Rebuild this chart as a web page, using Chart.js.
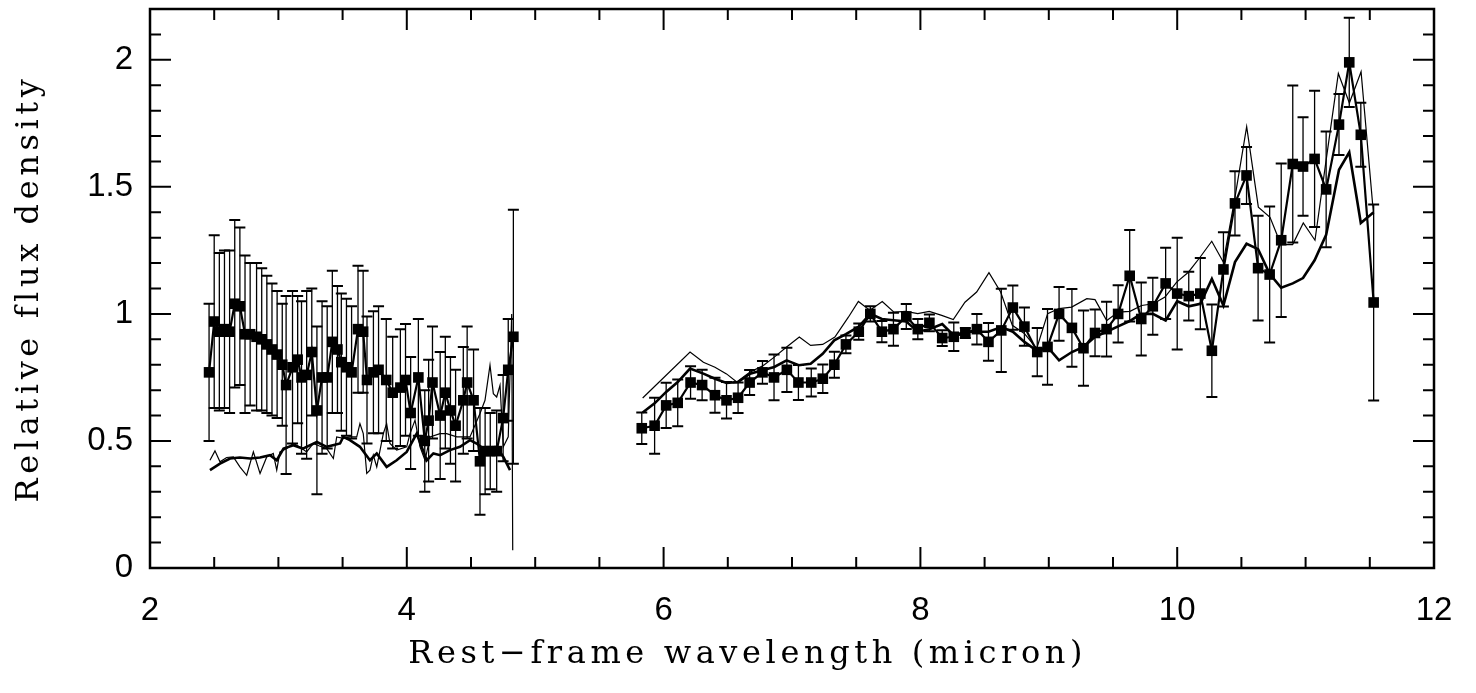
<!DOCTYPE html>
<html>
<head>
<meta charset="utf-8">
<script src="https://cdn.jsdelivr.net/npm/chart.js@4.4.1/dist/chart.umd.min.js"></script>
<style>
html,body{margin:0;padding:0;background:#fff;}
#wrap{width:1476px;height:693px;position:relative;}
</style>
</head>
<body>
<div id="wrap"><canvas id="c" width="1476" height="693"></canvas></div>
<script>
// ---------- data: short-wavelength segment ----------
const wl1 = [2.46,2.50,2.54,2.58,2.62,2.66,2.70,2.74,2.78,2.83,2.87,2.91,2.95,2.99,3.03,3.06,3.11,3.15,3.18,3.22,3.26,3.30,3.34,3.38,3.42,3.46,3.49,3.53,3.57,3.62,3.66,3.69,3.74,3.78,3.84,3.89,3.95,3.99,4.03,4.09,4.14,4.17,4.20,4.26,4.30,4.34,4.38,4.44,4.47,4.52,4.57,4.61,4.65,4.70,4.75,4.79,4.83];
const flux1 = [0.77,0.97,0.93,0.94,0.93,1.04,1.03,0.92,0.92,0.91,0.90,0.88,0.86,0.84,0.80,0.72,0.79,0.82,0.75,0.76,0.85,0.62,0.75,0.75,0.89,0.86,0.81,0.79,0.77,0.94,0.93,0.74,0.77,0.78,0.74,0.69,0.71,0.74,0.61,0.75,0.50,0.58,0.73,0.60,0.69,0.62,0.56,0.66,0.73,0.66,0.42,0.46,0.46,0.46,0.59,0.78,0.91];
const err1 = [0.27,0.34,0.31,0.31,0.32,0.33,0.31,0.31,0.28,0.29,0.28,0.27,0.26,0.25,0.24,0.35,0.30,0.25,0.30,0.33,0.25,0.33,0.30,0.28,0.28,0.25,0.27,0.27,0.26,0.25,0.24,0.25,0.24,0.25,0.24,0.22,0.23,0.22,0.22,0.23,0.20,0.24,0.22,0.25,0.22,0.21,0.22,0.21,0.22,0.20,0.21,0.17,0.15,0.16,0.17,0.20,0.50];

// ---------- data: long-wavelength segment ----------
const wl2 = [5.83,5.93,6.02,6.11,6.21,6.30,6.40,6.49,6.58,6.67,6.77,6.86,6.96,7.05,7.15,7.24,7.33,7.42,7.52,7.61,7.70,7.79,7.89,7.98,8.07,8.17,8.26,8.35,8.44,8.53,8.63,8.72,8.81,8.91,8.99,9.08,9.18,9.27,9.36,9.45,9.54,9.63,9.72,9.81,9.91,10.00,10.09,10.18,10.27,10.36,10.45,10.54,10.63,10.72,10.81,10.90,10.98,11.07,11.16,11.26,11.34,11.43,11.53];
const flux2 = [0.55,0.56,0.64,0.65,0.73,0.72,0.68,0.66,0.67,0.73,0.77,0.75,0.78,0.73,0.73,0.745,0.80,0.88,0.93,1.00,0.93,0.94,0.99,0.94,0.965,0.905,0.91,0.925,0.94,0.89,0.935,1.025,0.95,0.85,0.87,1.00,0.945,0.865,0.925,0.94,1.00,1.15,0.98,1.03,1.12,1.08,1.07,1.08,0.855,1.175,1.435,1.545,1.18,1.155,1.29,1.59,1.58,1.61,1.49,1.745,1.99,1.705,1.045];
const err2 = [0.062,0.11,0.089,0.092,0.064,0.06,0.069,0.072,0.06,0.049,0.045,0.09,0.087,0.069,0.055,0.056,0.051,0.035,0.032,0.03,0.042,0.065,0.049,0.04,0.033,0.031,0.056,0.02,0.06,0.074,0.164,0.087,0.075,0.095,0.149,0.106,0.153,0.148,0.092,0.108,0.113,0.18,0.144,0.112,0.14,0.22,0.096,0.14,0.182,0.146,0.126,0.112,0.206,0.268,0.302,0.309,0.194,0.268,0.228,0.12,0.176,0.126,0.386];

// ---------- model curves ----------
const thinX1 = [2.467,2.506,2.545,2.597,2.649,2.70,2.753,2.805,2.857,2.909,2.96,2.987,3.012,3.065,3.116,3.17,3.22,3.272,3.32,3.376,3.428,3.454,3.506,3.557,3.61,3.635,3.661,3.688,3.713,3.739,3.766,3.817,3.843,3.869,3.921,3.999,4.025,4.064,4.103,4.142,4.181,4.259,4.31,4.389,4.492,4.57,4.609,4.648,4.674,4.70,4.726,4.752,4.79,4.817,4.825];
const thinY1 = [0.424,0.461,0.418,0.435,0.437,0.398,0.365,0.457,0.372,0.437,0.451,0.385,0.457,0.470,0.490,0.475,0.457,0.490,0.480,0.470,0.431,0.516,0.510,0.516,0.516,0.568,0.529,0.372,0.385,0.444,0.398,0.529,0.568,0.490,0.464,0.477,0.529,0.582,0.477,0.424,0.516,0.529,0.529,0.516,0.516,0.608,0.660,0.798,0.686,0.673,0.719,0.477,0.516,1.00,0.07];
const thickX1 = [2.467,2.545,2.623,2.70,2.78,2.857,2.935,2.987,3.04,3.116,3.19,3.30,3.376,3.48,3.505,3.557,3.635,3.713,3.766,3.843,3.921,3.999,4.077,4.155,4.207,4.26,4.336,4.414,4.492,4.544,4.596,4.70,4.752,4.804];
const thickY1 = [0.385,0.411,0.431,0.435,0.431,0.435,0.444,0.424,0.470,0.483,0.470,0.496,0.477,0.490,0.516,0.503,0.477,0.424,0.451,0.398,0.424,0.457,0.529,0.424,0.451,0.444,0.464,0.477,0.503,0.490,0.470,0.477,0.437,0.385];
const thinX2 = [5.837,6.206,6.31,6.40,6.49,6.57,6.673,6.777,6.862,6.958,7.057,7.145,7.239,7.334,7.439,7.517,7.607,7.703,7.794,7.888,7.979,8.069,8.166,8.256,8.347,8.438,8.534,8.625,8.716,8.809,8.906,8.991,9.08,9.178,9.296,9.36,9.451,9.541,9.632,9.723,9.814,9.905,9.996,10.087,10.178,10.269,10.359,10.45,10.541,10.632,10.723,10.808,10.899,10.982,11.073,11.164,11.255,11.341,11.432,11.527];
const thinY2 = [0.669,0.850,0.810,0.790,0.764,0.732,0.771,0.797,0.830,0.870,0.909,0.876,0.880,0.909,0.987,1.049,1.014,1.049,1.007,1.010,1.001,1.010,0.994,0.978,1.046,1.086,1.162,1.086,0.955,0.923,0.864,1.001,1.021,1.027,1.060,1.056,0.974,1.007,1.010,1.033,1.040,1.066,1.125,1.164,1.223,1.286,1.204,1.459,1.737,1.420,1.380,1.273,1.273,1.358,1.290,1.620,1.946,1.830,1.953,1.404];
const thickX2 = [5.837,5.93,6.02,6.11,6.206,6.31,6.40,6.49,6.58,6.673,6.77,6.862,6.958,7.052,7.145,7.239,7.329,7.42,7.52,7.61,7.70,7.79,7.89,7.98,8.07,8.17,8.26,8.35,8.44,8.53,8.63,8.72,8.81,8.91,8.99,9.08,9.18,9.27,9.36,9.45,9.54,9.63,9.72,9.81,9.91,10.00,10.09,10.18,10.27,10.36,10.45,10.54,10.63,10.72,10.81,10.90,10.98,11.07,11.16,11.26,11.34,11.43,11.53];
const thickY2 = [0.612,0.648,0.693,0.732,0.785,0.765,0.745,0.728,0.732,0.765,0.778,0.791,0.817,0.798,0.804,0.843,0.896,0.920,0.950,1.000,0.980,0.975,0.970,0.930,0.940,0.960,0.915,0.930,0.930,0.930,0.948,0.930,0.890,0.854,0.870,0.817,0.850,0.870,0.910,0.930,0.951,0.972,1.000,1.000,0.974,1.050,1.030,1.040,1.138,1.033,1.204,1.276,1.255,1.158,1.103,1.120,1.141,1.211,1.311,1.567,1.636,1.358,1.400];

// ---------- axes ----------
const xRange = [2, 12];
const yRange = [0, 2.2];
const xMajorStep = 2;
const yMajorStep = 0.5;
const xTickMarks = [2,2.5,3,3.5,4,4.5,5,5.5,6,6.5,7,7.5,8,8.5,9,9.5,10,10.5,11,11.5,12];
const xTickMajor = [2,4,6,8,10,12];
const yTickMarks = [0,0.1,0.2,0.3,0.4,0.5,0.6,0.7,0.8,0.9,1,1.1,1.2,1.3,1.4,1.5,1.6,1.7,1.8,1.9,2,2.1,2.2];
const yTickMajor = [0,0.5,1,1.5,2];
const xTitle = 'Rest\u2212frame wavelength (micron)      ';
const yTitle = 'Relative flux density';

function pts(xs, ys) { return xs.map((v, i) => ({x: v, y: ys[i]})); }
function joinGap(a, b, gx) { return a.concat([{x: gx, y: null}], b); }

const dataPts = joinGap(pts(wl1, flux1), pts(wl2, flux2), 5.3);
const thinPts = joinGap(pts(thinX1, thinY1), pts(thinX2, thinY2), 5.3);
const thickPts = joinGap(pts(thickX1, thickY1), pts(thickX2, thickY2), 5.3);

const errorBars = {
  id: 'errorBars',
  afterDatasetsDraw(chart) {
    const {ctx, chartArea: a, scales: {x, y}} = chart;
    ctx.save();
    ctx.beginPath();
    ctx.rect(a.left, a.top, a.right - a.left, a.bottom - a.top);
    ctx.clip();
    ctx.strokeStyle = '#000';
    const segs = [[wl1, flux1, err1], [wl2, flux2, err2]];
    for (const [ws, fs, es] of segs) {
      ws.forEach((w, i) => {
        const px = x.getPixelForValue(w);
        const pt = y.getPixelForValue(fs[i] + es[i]);
        const pb = y.getPixelForValue(fs[i] - es[i]);
        ctx.lineWidth = 1.3;
        ctx.beginPath(); ctx.moveTo(px, pt); ctx.lineTo(px, pb); ctx.stroke();
        ctx.lineWidth = 2;
        ctx.beginPath();
        ctx.moveTo(px - 5.5, pt); ctx.lineTo(px + 5.5, pt);
        ctx.moveTo(px - 5.5, pb); ctx.lineTo(px + 5.5, pb);
        ctx.stroke();
      });
    }
    ctx.restore();
  }
};

const frameTicks = {
  id: 'frameTicks',
  afterDraw(chart) {
    const {ctx, chartArea: a, scales: {x, y}} = chart;
    ctx.save();
    ctx.strokeStyle = '#000';
    ctx.lineWidth = 2;
    ctx.beginPath();
    yTickMarks.forEach(v => {
      const py = y.getPixelForValue(v);
      const len = yTickMajor.includes(v) ? 21 : 11;
      ctx.moveTo(a.left, py); ctx.lineTo(a.left + len, py);
      ctx.moveTo(a.right, py); ctx.lineTo(a.right - len, py);
    });
    xTickMarks.forEach(v => {
      const px = x.getPixelForValue(v);
      const len = xTickMajor.includes(v) ? 21 : 11;
      ctx.moveTo(px, a.bottom); ctx.lineTo(px, a.bottom - len);
      ctx.moveTo(px, a.top); ctx.lineTo(px, a.top + len);
    });
    ctx.stroke();
    ctx.lineWidth = 2.5;
    ctx.strokeRect(a.left, a.top, a.right - a.left, a.bottom - a.top);
    ctx.restore();
  }
};

const titleSpacing = {
  id: 'titleSpacing',
  beforeDraw(chart) { chart.ctx.letterSpacing = '4.6px'; },
  beforeDatasetsDraw(chart) { chart.ctx.letterSpacing = '0px'; }
};

const tickFont = {family: '"Liberation Sans", Arial, sans-serif', size: 33};
const titleFont = {family: '"DejaVu Serif", serif', size: 32};

new Chart(document.getElementById('c'), {
  type: 'line',
  data: {
    datasets: [
      {label: 'thin model', data: thinPts, borderColor: '#000', borderWidth: 1.2, pointRadius: 0, spanGaps: false, tension: 0},
      {label: 'thick model', data: thickPts, borderColor: '#000', borderWidth: 2.6, pointRadius: 0, spanGaps: false, tension: 0},
      {label: 'data', data: dataPts, borderColor: '#000', borderWidth: 2.2, pointStyle: 'rect', pointRadius: 7.5, pointBackgroundColor: '#000', pointBorderColor: '#000', pointBorderWidth: 0, spanGaps: false, tension: 0}
    ]
  },
  options: {
    responsive: false,
    animation: false,
    devicePixelRatio: 1,
    layout: {padding: {top: 9, right: 42, left: 0, bottom: 0}},
    plugins: {legend: {display: false}, tooltip: {enabled: false}},
    scales: {
      x: {
        type: 'linear', min: xRange[0], max: xRange[1],
        grid: {display: false, drawTicks: false},
        border: {display: false},
        ticks: {stepSize: xMajorStep, includeBounds: false, color: '#000', font: tickFont, padding: 23, z: 1, maxRotation: 0,
                callback: v => String(Math.round(v * 10) / 10)},
        title: {display: true, text: xTitle, color: '#000', font: titleFont, padding: {top: 0, bottom: 19}},
        afterFit(s) { s.height = 125; s.paddingLeft = 0; s.paddingRight = 0; }
      },
      y: {
        type: 'linear', min: yRange[0], max: yRange[1],
        grid: {display: false, drawTicks: false},
        border: {display: false},
        ticks: {stepSize: yMajorStep, includeBounds: false, color: '#000', font: tickFont, padding: 17, z: 1,
                callback: v => String(Math.round(v * 10) / 10)},
        title: {display: true, text: yTitle, color: '#000', font: titleFont, padding: {top: 10, bottom: 0}},
        afterFit(s) { s.width = 150; s.paddingTop = 0; s.paddingBottom = 0; }
      }
    }
  },
  plugins: [titleSpacing, errorBars, frameTicks]
});
</script>
</body>
</html>
